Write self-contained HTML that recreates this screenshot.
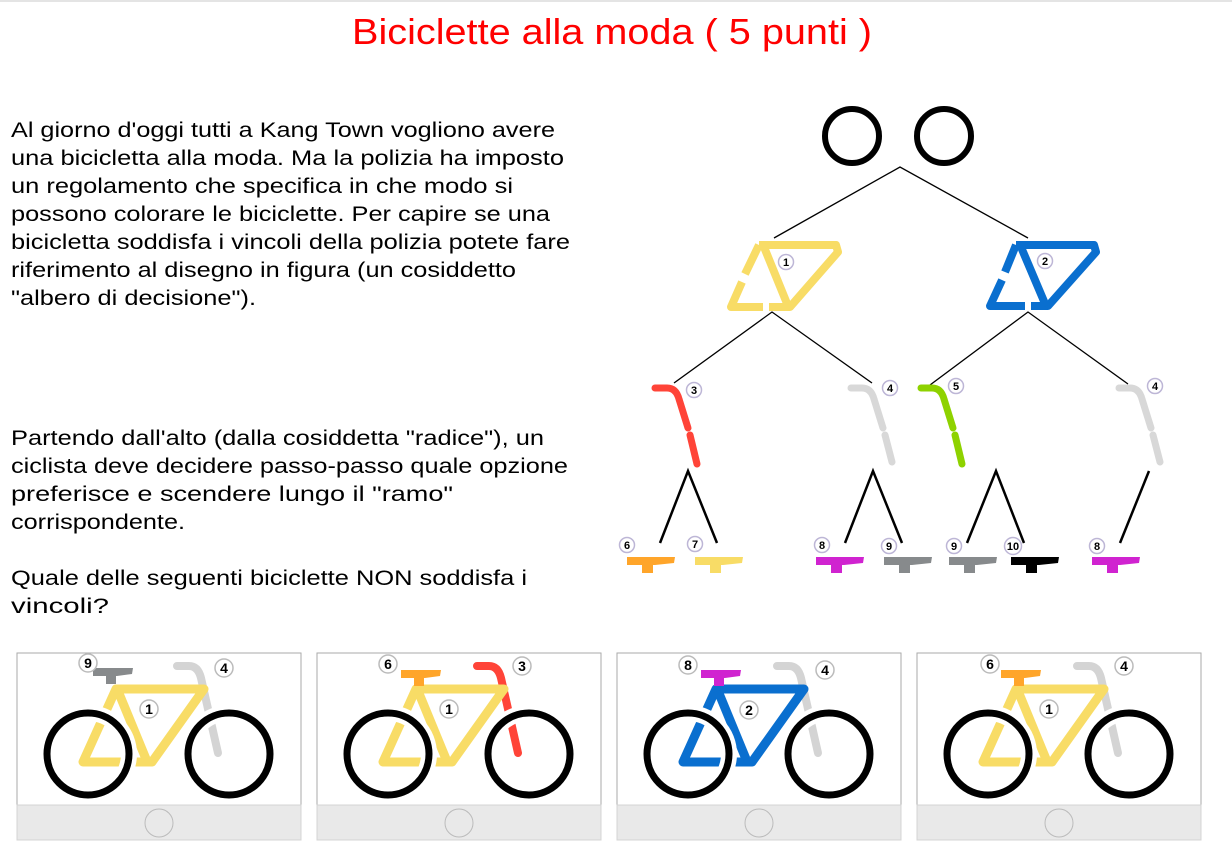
<!DOCTYPE html>
<html><head><meta charset="utf-8"><style>
html,body{margin:0;padding:0;background:#fff;}
svg{display:block;}
text{font-family:"Liberation Sans",Arial,sans-serif;}
.t{font-size:21.5px;fill:#000;}
.lb circle{fill:#fff;stroke:#bdb6d6;stroke-width:1.5;}
.lb text{font-size:11px;font-weight:bold;text-anchor:middle;fill:#000;}
.bl circle{fill:#fff;stroke:#bbb;stroke-width:1.5;}
.bl text{font-size:14px;font-weight:bold;text-anchor:middle;fill:#000;}
</style></head><body>
<svg width="1232" height="853" viewBox="0 0 1232 853" xmlns="http://www.w3.org/2000/svg">
<line x1="0" y1="1" x2="1232" y2="1" stroke="#e4e4e4" stroke-width="2"/>
<text x="612" y="44" font-size="36" fill="#ff0000" text-anchor="middle" textLength="520" lengthAdjust="spacingAndGlyphs">Biciclette alla moda ( 5 punti )</text>

<g class="t">
<text x="11" y="137" textLength="544" lengthAdjust="spacingAndGlyphs">Al giorno d'oggi tutti a Kang Town vogliono avere</text>
<text x="11" y="165" textLength="553" lengthAdjust="spacingAndGlyphs">una bicicletta alla moda. Ma la polizia ha imposto</text>
<text x="11" y="193" textLength="502" lengthAdjust="spacingAndGlyphs">un regolamento che specifica in che modo si</text>
<text x="11" y="221" textLength="539" lengthAdjust="spacingAndGlyphs">possono colorare le biciclette. Per capire se una</text>
<text x="11" y="249" textLength="559" lengthAdjust="spacingAndGlyphs">bicicletta soddisfa i vincoli della polizia potete fare</text>
<text x="11" y="277" textLength="505" lengthAdjust="spacingAndGlyphs">riferimento al disegno in figura (un cosiddetto</text>
<text x="11" y="305" textLength="245" lengthAdjust="spacingAndGlyphs">"albero di decisione").</text>
<text x="11" y="445" textLength="533" lengthAdjust="spacingAndGlyphs">Partendo dall'alto (dalla cosiddetta "radice"), un</text>
<text x="11" y="473" textLength="557" lengthAdjust="spacingAndGlyphs">ciclista deve decidere passo-passo quale opzione</text>
<text x="11" y="501" textLength="442" lengthAdjust="spacingAndGlyphs">preferisce e scendere lungo il "ramo"</text>
<text x="11" y="529" textLength="174" lengthAdjust="spacingAndGlyphs">corrispondente.</text>
<text x="11" y="585" textLength="516" lengthAdjust="spacingAndGlyphs">Quale delle seguenti biciclette NON soddisfa i</text>
<text x="11" y="613" textLength="98" lengthAdjust="spacingAndGlyphs">vincoli?</text>
</g>

<!-- tree -->
<ellipse cx="852" cy="136" rx="27" ry="27" fill="none" stroke="#000" stroke-width="6"/>
<ellipse cx="944" cy="136" rx="27" ry="27" fill="none" stroke="#000" stroke-width="6"/>
<g stroke="#000" stroke-width="1.3" fill="none">
<polyline points="774,238 900,167 1028,238"/>
<polyline points="674,383 772,312 872,383"/>
<polyline points="930,385 1028,312 1128,384"/>
</g>
<g stroke="#000" stroke-width="2.5" fill="none">
<polyline points="660,543 688,471 717,543"/>
<polyline points="845,543 873,471 902,543"/>
<polyline points="967,543 996,471 1024,543"/>
<line x1="1149" y1="471" x2="1120" y2="543"/>
</g>

<!-- frame 1 -->
<g fill="none" stroke="#f8dc66" stroke-width="8" stroke-linejoin="round" stroke-linecap="butt">
<path d="M759,245 H836 L838,252 L790,307 H769"/>
<path d="M763,307 H731 L742,282"/>
<path d="M745,274 L759,245"/>
<path d="M764,247 L788,306"/>
</g>
<g class="lb"><circle cx="786" cy="262" r="7.5"/><text x="786" y="266">1</text></g>
<!-- frame 2 -->
<g fill="none" stroke="#0a6fcf" stroke-width="8" stroke-linejoin="round">
<path d="M1016,245 H1094 L1096,252 L1048,306 H1031"/>
<path d="M1025,306 H990 L1002,280"/>
<path d="M1005,272 L1016,245"/>
<path d="M1021,247 L1046,306"/>
</g>
<g class="lb"><circle cx="1045" cy="261" r="7.5"/><text x="1045" y="265">2</text></g>

<!-- forks -->
<g fill="none" stroke-width="7" stroke-linecap="round">
<path stroke="#ff4438" d="M655,388 H667 Q676,388 679,399 L688,428 M690,435 L697,464"/>
<path stroke="#d8d8d8" d="M851,388 H862 Q871,388 874,399 L883,428 M885,435 L892,462"/>
<path stroke="#8ed200" d="M921,388 H932 Q941,388 944,399 L953,428 M955,435 L962,464"/>
<path stroke="#d8d8d8" d="M1119,388 H1130 Q1139,388 1142,399 L1151,428 M1153,435 L1160,462"/>
</g>
<g class="lb">
<circle cx="694" cy="390" r="7.5"/><text x="694" y="394">3</text>
<circle cx="890" cy="388" r="7.5"/><text x="890" y="392">4</text>
<circle cx="956" cy="386" r="7.5"/><text x="956" y="390">5</text>
<circle cx="1155" cy="386" r="7.5"/><text x="1155" y="390">4</text>
</g>

<!-- seats -->
<defs>
<path id="st" d="M0,0 H48 L47,6 L28,8 L26,8 V16 H15 V8 H0 Z"/>
<path id="bs" d="M0,0 H40 L39,6 L24,8 L23,8 V16 H13 V8 H0 Z"/>
</defs>
<use href="#st" x="627" y="557" fill="#ffa52a"/>
<use href="#st" x="695" y="557" fill="#f8dc66"/>
<use href="#st" x="816" y="557" fill="#d023d0"/>
<use href="#st" x="884" y="557" fill="#878a8c"/>
<use href="#st" x="949" y="557" fill="#878a8c"/>
<use href="#st" x="1011" y="557" fill="#000"/>
<use href="#st" x="1092" y="557" fill="#d023d0"/>
<g class="lb">
<circle cx="627" cy="545" r="7.5"/><text x="627" y="549">6</text>
<circle cx="695" cy="544" r="7.5"/><text x="695" y="548">7</text>
<circle cx="822" cy="545" r="7.5"/><text x="822" y="549">8</text>
<circle cx="889" cy="546" r="7.5"/><text x="889" y="550">9</text>
<circle cx="954" cy="546" r="7.5"/><text x="954" y="550">9</text>
<circle cx="1013" cy="546" r="8.5"/><text x="1013" y="550">10</text>
<circle cx="1097" cy="546" r="7.5"/><text x="1097" y="550">8</text>
</g>

<!-- panels -->
<g>
<g transform="translate(17,653)">
<rect x="0" y="0" width="284" height="152" fill="#fff" stroke="#aaa" stroke-width="1"/>
<rect x="0" y="152" width="284" height="35" fill="#e9e9e9" stroke="#d4d4d4" stroke-width="1"/>
<ellipse cx="142" cy="170" rx="14" ry="14" fill="none" stroke="#bbb"/>
</g>
<g transform="translate(317,653)">
<rect x="0" y="0" width="284" height="152" fill="#fff" stroke="#aaa" stroke-width="1"/>
<rect x="0" y="152" width="284" height="35" fill="#e9e9e9" stroke="#d4d4d4" stroke-width="1"/>
<ellipse cx="142" cy="170" rx="14" ry="14" fill="none" stroke="#bbb"/>
</g>
<g transform="translate(617,653)">
<rect x="0" y="0" width="284" height="152" fill="#fff" stroke="#aaa" stroke-width="1"/>
<rect x="0" y="152" width="284" height="35" fill="#e9e9e9" stroke="#d4d4d4" stroke-width="1"/>
<ellipse cx="142" cy="170" rx="14" ry="14" fill="none" stroke="#bbb"/>
</g>
<g transform="translate(917,653)">
<rect x="0" y="0" width="284" height="152" fill="#fff" stroke="#aaa" stroke-width="1"/>
<rect x="0" y="152" width="284" height="35" fill="#e9e9e9" stroke="#d4d4d4" stroke-width="1"/>
<ellipse cx="142" cy="170" rx="14" ry="14" fill="none" stroke="#bbb"/>
</g>
</g>

<defs>
<g id="wheels">
<circle cx="71" cy="101" r="41" fill="none" stroke="#fff" stroke-width="16"/>
<circle cx="212" cy="101" r="41" fill="none" stroke="#fff" stroke-width="16"/>
<circle cx="71" cy="101" r="41" fill="none" stroke="#000" stroke-width="7"/>
<circle cx="212" cy="101" r="41" fill="none" stroke="#000" stroke-width="7"/>
</g>
</defs>

<!-- bike 1 -->
<g transform="translate(17,653)">
<path d="M160,13 H172 Q181,13 184,25 L201,100" fill="none" stroke="#d4d4d4" stroke-width="8" stroke-linecap="round"/>
<g fill="none" stroke="#f8dc66" stroke-width="9" stroke-linejoin="round"><path d="M99,36 H187 L135,109 H66 Z"/><path d="M101,38 L129,106"/></g>
<use href="#wheels"/>
<use href="#bs" x="76" y="15" fill="#878a8c"/>
<g class="bl"><circle cx="71" cy="10" r="9"/><text x="71" y="15">9</text>
<circle cx="207" cy="15" r="9"/><text x="207" y="20">4</text>
<circle cx="132" cy="56" r="9"/><text x="132" y="61">1</text></g>
</g>
<!-- bike 2 -->
<g transform="translate(317,653)">
<path d="M160,13 H172 Q181,13 184,25 L201,100" fill="none" stroke="#ff4438" stroke-width="8" stroke-linecap="round"/>
<g fill="none" stroke="#f8dc66" stroke-width="9" stroke-linejoin="round"><path d="M99,36 H187 L135,109 H66 Z"/><path d="M101,38 L129,106"/></g>
<use href="#wheels"/>
<use href="#bs" x="84" y="17" fill="#ffa52a"/>
<g class="bl"><circle cx="71" cy="11" r="9"/><text x="71" y="16">6</text>
<circle cx="205" cy="13" r="9"/><text x="205" y="18">3</text>
<circle cx="132" cy="56" r="9"/><text x="132" y="61">1</text></g>
</g>
<!-- bike 3 -->
<g transform="translate(617,653)">
<path d="M160,13 H172 Q181,13 184,25 L201,100" fill="none" stroke="#d4d4d4" stroke-width="8" stroke-linecap="round"/>
<g fill="none" stroke="#0a6fcf" stroke-width="9" stroke-linejoin="round"><path d="M99,36 H187 L135,109 H66 Z"/><path d="M101,38 L129,106"/></g>
<use href="#wheels"/>
<use href="#bs" x="84" y="17" fill="#d023d0"/>
<g class="bl"><circle cx="71" cy="12" r="9"/><text x="71" y="17">8</text>
<circle cx="208" cy="17" r="9"/><text x="208" y="22">4</text>
<circle cx="132" cy="57" r="9"/><text x="132" y="62">2</text></g>
</g>
<!-- bike 4 -->
<g transform="translate(917,653)">
<path d="M160,13 H172 Q181,13 184,25 L201,100" fill="none" stroke="#d4d4d4" stroke-width="8" stroke-linecap="round"/>
<g fill="none" stroke="#f8dc66" stroke-width="9" stroke-linejoin="round"><path d="M99,36 H187 L135,109 H66 Z"/><path d="M101,38 L129,106"/></g>
<use href="#wheels"/>
<use href="#bs" x="84" y="17" fill="#ffa52a"/>
<g class="bl"><circle cx="73" cy="11" r="9"/><text x="73" y="16">6</text>
<circle cx="207" cy="13" r="9"/><text x="207" y="18">4</text>
<circle cx="132" cy="56" r="9"/><text x="132" y="61">1</text></g>
</g>
</svg>
</body></html>
